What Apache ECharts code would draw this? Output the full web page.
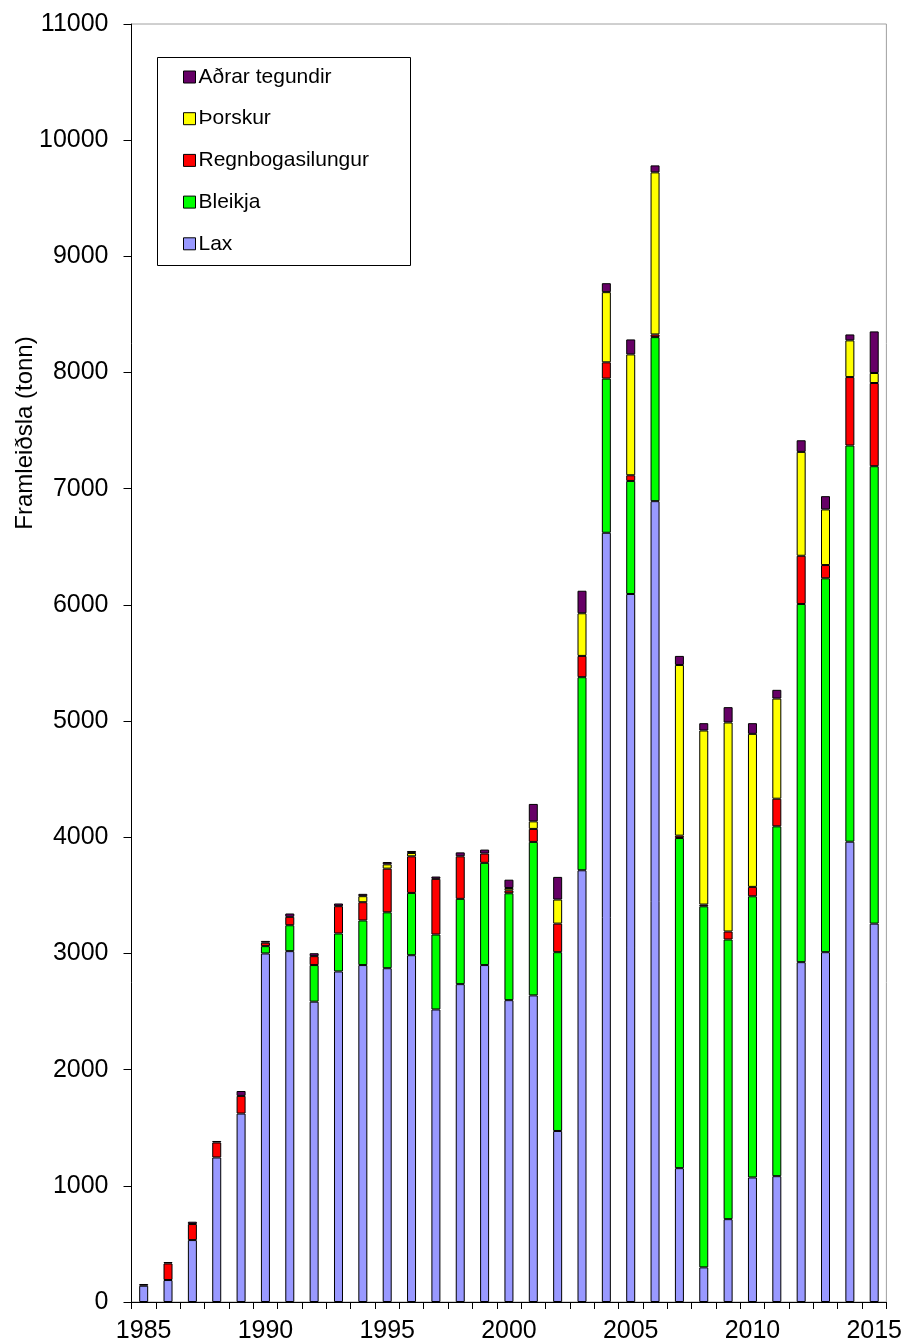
<!DOCTYPE html>
<html>
<head>
<meta charset="utf-8">
<script src="https://cdn.jsdelivr.net/npm/echarts@6/dist/echarts.min.js"></script>
<style>
html,body{margin:0;padding:0;background:#fff;}
#c{width:905px;height:1344px;}
</style>
</head>
<body>
<div id="c"></div>
<script>
const years = ['1985','1986','1987','1988','1989','1990','1991','1992','1993','1994','1995','1996','1997','1998','1999','2000','2001','2002','2003','2004','2005','2006','2007','2008','2009','2010','2011','2012','2013','2014','2015'];
const lax = [140,189,533,1244,1622,3000,3020,2585,2845,2900,2873,2985,2518,2736,2900,2598,2639,1472,3716,6621,6094,6893,1152,298,713,1072,1083,2925,3011,3962,3257];
const bleikja = [0,0,0,0,0,63,223,315,327,384,481,536,645,734,880,920,1321,1539,1662,1327,973,1412,2842,3108,2407,2420,3011,3083,3218,3410,3937];
const regnbogasilungur = [0,143,138,129,152,30,72,77,235,157,376,315,479,366,80,25,112,246,183,140,49,23,20,15,69,81,238,415,114,589,716];
const thorskur = [0,0,0,0,0,0,0,0,0,52,37,29,0,0,0,20,65,207,367,604,1040,1395,1469,1498,1799,1317,862,894,479,316,86];
const adrar = [15,12,20,13,42,15,29,25,23,20,20,17,20,34,34,72,150,195,194,77,129,60,78,63,132,92,75,100,114,51,358];
const yTicks = {min: 0, max: 11000, interval: 1000};
const yTitle = 'Framleiðsla (tonn)';

const names = ['Lax','Bleikja','Regnbogasilungur','Þorskur','Aðrar tegundir'];
const colors = ['#9999ff','#00ff00','#ff0000','#ffff00','#660066'];
const values = [lax, bleikja, regnbogasilungur, thorskur, adrar];

const FONT = '"Liberation Sans", Arial, sans-serif';

const series = names.map((n, i) => ({
  name: n,
  type: 'bar',
  stack: 'total',
  barWidth: 9,
  data: values[i].map(v => v === 0 ? null : v),
  itemStyle: {color: colors[i], borderColor: '#000', borderWidth: 1},
  emphasis: {disabled: true}
}));

const chart = echarts.init(document.getElementById('c'), null, {renderer: 'canvas'});
chart.setOption({
  animation: false,
  backgroundColor: '#fff',
  grid: {left: 131.5, right: 17, top: 24, bottom: 41, show: true, borderColor: '#a0a0a0', borderWidth: 1, backgroundColor: 'transparent'},
  xAxis: {
    type: 'category',
    data: years,
    axisLine: {lineStyle: {color: '#000', width: 1}},
    axisTick: {show: true, interval: 0, length: 7, lineStyle: {color: '#000'}},
    axisLabel: {
      interval: (idx) => idx % 5 === 0,
      fontSize: 25, fontFamily: FONT, color: '#000', margin: 17
    },
    splitLine: {show: false}
  },
  yAxis: {
    type: 'value',
    min: yTicks.min, max: yTicks.max, interval: yTicks.interval,
    axisLine: {show: true, lineStyle: {color: '#000', width: 1}},
    axisTick: {show: true, length: 8, lineStyle: {color: '#000'}},
    axisLabel: {fontSize: 25, fontFamily: FONT, color: '#000', margin: 23, formatter: (v) => String(v)},
    splitLine: {show: false}
  },
  legend: {
    orient: 'vertical',
    left: 183, top: 66,
    padding: 0,
    itemGap: 19.7,
    itemWidth: 12, itemHeight: 12,
    icon: 'rect',
    data: ['Aðrar tegundir','Þorskur','Regnbogasilungur','Bleikja','Lax'],
    itemStyle: {borderColor: '#000', borderWidth: 1},
    textStyle: {fontSize: 21, fontFamily: FONT, color: '#000', lineHeight: 22, padding: [0,0,0,-2]},
    selectedMode: false
  },
  graphic: [
    {type: 'rect', left: 157, top: 57, z: 0, shape: {width: 253, height: 208}, style: {fill: '#fff', stroke: '#000', lineWidth: 1}},
    {type: 'text', x: 25, y: 433, rotation: Math.PI/2, style: {text: yTitle, font: '24px "Liberation Sans", Arial, sans-serif', fill: '#000', textAlign: 'center', textVerticalAlign: 'middle'}}
  ],
  series: series
});
</script>
</body>
</html>
